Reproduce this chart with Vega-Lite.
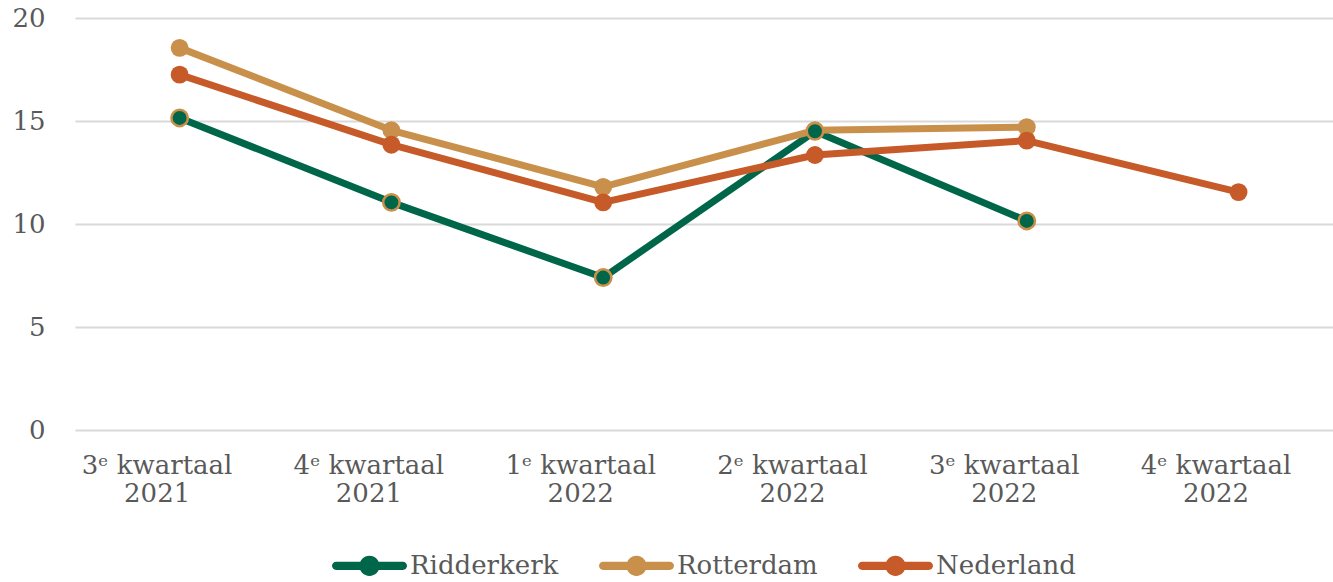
{
  "$schema": "https://vega.github.io/schema/vega-lite/v6.json",
  "width": 1258,
  "height": 412,
  "autosize": {"type": "none"},
  "padding": {"left": 75, "top": 18, "right": 0, "bottom": 152},
  "background": "white",
  "config": {
    "view": {"stroke": null},
    "font": "DejaVu Serif",
    "legend": {"layout": {"bottom": {"anchor": "middle"}}}
  },
  "data": {
    "values": [
      {"q": "3ᵉ kwartaal|2021", "s": "Ridderkerk", "v": 15.15},
      {"q": "4ᵉ kwartaal|2021", "s": "Ridderkerk", "v": 11.05},
      {"q": "1ᵉ kwartaal|2022", "s": "Ridderkerk", "v": 7.4},
      {"q": "2ᵉ kwartaal|2022", "s": "Ridderkerk", "v": 14.5},
      {"q": "3ᵉ kwartaal|2022", "s": "Ridderkerk", "v": 10.15},
      {"q": "3ᵉ kwartaal|2021", "s": "Rotterdam", "v": 18.55},
      {"q": "4ᵉ kwartaal|2021", "s": "Rotterdam", "v": 14.55},
      {"q": "1ᵉ kwartaal|2022", "s": "Rotterdam", "v": 11.8},
      {"q": "2ᵉ kwartaal|2022", "s": "Rotterdam", "v": 14.55},
      {"q": "3ᵉ kwartaal|2022", "s": "Rotterdam", "v": 14.7},
      {"q": "3ᵉ kwartaal|2021", "s": "Nederland", "v": 17.25},
      {"q": "4ᵉ kwartaal|2021", "s": "Nederland", "v": 13.85},
      {"q": "1ᵉ kwartaal|2022", "s": "Nederland", "v": 11.05},
      {"q": "2ᵉ kwartaal|2022", "s": "Nederland", "v": 13.35},
      {"q": "3ᵉ kwartaal|2022", "s": "Nederland", "v": 14.05},
      {"q": "4ᵉ kwartaal|2022", "s": "Nederland", "v": 11.55}
    ]
  },
  "encoding": {
    "x": {
      "field": "q",
      "type": "nominal",
      "sort": ["3ᵉ kwartaal|2021", "4ᵉ kwartaal|2021", "1ᵉ kwartaal|2022", "2ᵉ kwartaal|2022", "3ᵉ kwartaal|2022", "4ᵉ kwartaal|2022"],
      "scale": {"type": "point", "padding": 0.47, "align": 0.41},
      "axis": {
        "title": null,
        "labelAngle": 0,
        "domain": false,
        "ticks": false,
        "grid": false,
        "labelPadding": 22,
        "labelFontSize": 26,
        "labelColor": "#595959",
        "labelFont": "DejaVu Serif",
        "labelExpr": "split(datum.label, '|')",
        "labelLineHeight": 28
      }
    },
    "y": {
      "field": "v",
      "type": "quantitative",
      "scale": {"domain": [0, 20]},
      "axis": {
        "title": null,
        "values": [0, 5, 10, 15, 20],
        "domain": false,
        "ticks": false,
        "labelPadding": 30,
        "labelFontSize": 26,
        "labelColor": "#595959",
        "labelFont": "DejaVu Serif",
        "gridColor": "#d9d9d9",
        "gridWidth": 2
      }
    },
    "color": {
      "field": "s",
      "type": "nominal",
      "scale": {"domain": ["Ridderkerk", "Rotterdam", "Nederland"], "range": ["#00664A", "#C8904A", "#C65A28"]},
      "legend": {
        "title": null,
        "orient": "bottom",
        "direction": "horizontal",
        "symbolType": "M-0.89,-0.11L0.89,-0.11L0.89,0.11L-0.89,0.11Z M-0.78,0A0.11,0.11 0 1 1 -1,0A0.11,0.11 0 1 1 -0.78,0Z M1,0A0.11,0.11 0 1 1 0.78,0A0.11,0.11 0 1 1 1,0Z M0.27,0A0.27,0.27 0 1 1 -0.27,0A0.27,0.27 0 1 1 0.27,0Z",
        "symbolSize": 5625,
        "symbolStrokeWidth": 0,
        "labelFontSize": 26,
        "labelColor": "#595959",
        "labelFont": "DejaVu Serif",
        "labelOffset": 3,
        "columnPadding": 40,
        "offset": 22,
        "encode": {
          "symbols": {
            "update": {
              "fill": {"scale": "color", "field": "value"},
              "stroke": {"value": "transparent"},
              "opacity": {"value": 1}
            }
          }
        }
      }
    }
  },
  "layer": [
    {"mark": {"type": "line", "strokeWidth": 7, "strokeCap": "round", "strokeJoin": "round", "xOffset": 23}},
    {
      "transform": [{"filter": "datum.s !== 'Ridderkerk'"}],
      "mark": {"type": "point", "filled": true, "size": 320, "opacity": 1, "xOffset": 23}
    },
    {
      "transform": [{"filter": "datum.s === 'Ridderkerk'"}],
      "mark": {"type": "point", "filled": true, "size": 270, "opacity": 1, "stroke": "#C8904A", "strokeWidth": 2.5, "xOffset": 23}
    }
  ]
}
